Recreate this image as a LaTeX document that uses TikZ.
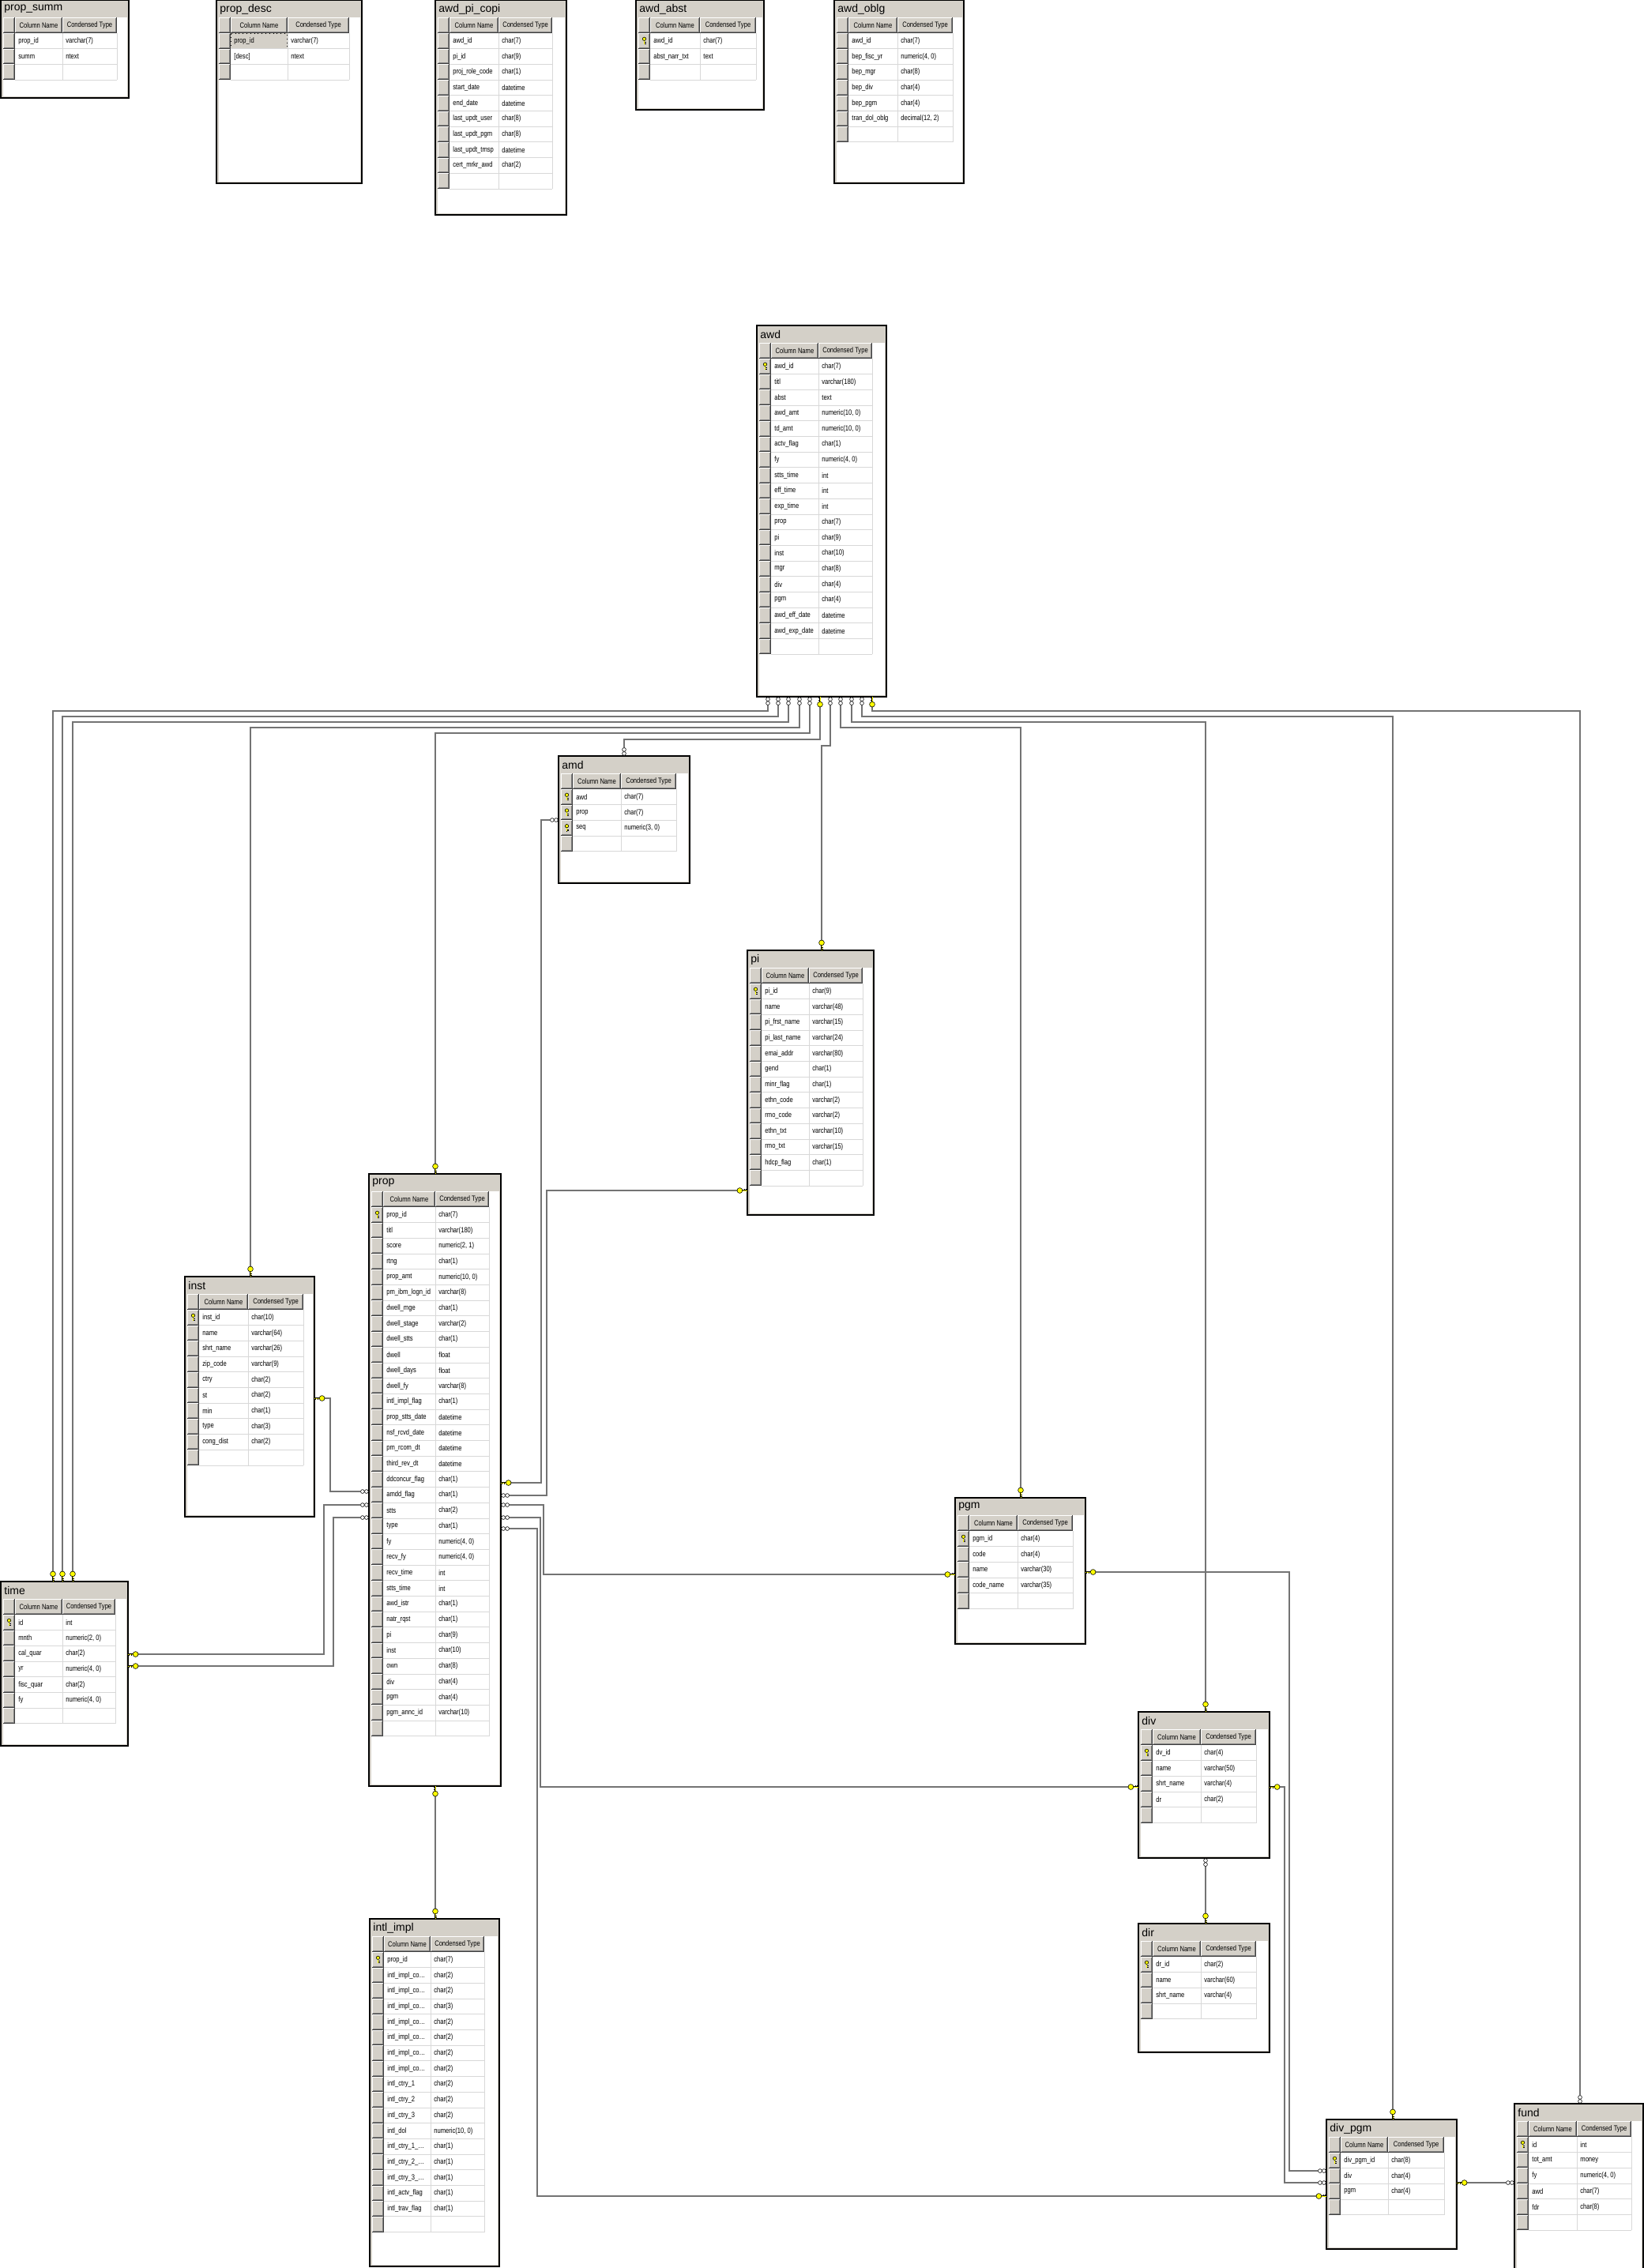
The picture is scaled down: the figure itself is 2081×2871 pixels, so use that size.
\documentclass[tikz,border=0pt]{standalone}
\usepackage{fontspec}
\newfontfamily\tfont[FakeStretch=0.8]{Liberation Sans}
\newfontfamily\ttlfont{Liberation Sans}
\definecolor{winbg}{HTML}{D4D0C8}
\definecolor{btndk}{HTML}{808080}
\definecolor{gridc}{HTML}{D8D8D8}
\definecolor{keyy}{HTML}{FFFF00}
\tikzset{
  cell/.style={anchor=west, inner sep=0pt, font=\tfont\fontsize{4.75pt}{5pt}\selectfont},
  hdr/.style={anchor=center, inner sep=0pt, font=\tfont\fontsize{4.75pt}{5pt}\selectfont},
  ttl/.style={anchor=west, inner sep=0pt, font=\ttlfont\fontsize{7pt}{8pt}\selectfont},
  rel/.style={draw=black, double=black!55, double distance=0.55pt, line width=0.38pt},
  mkey/.pic={
    \draw[black, line width=1pt] (0,-6.5) -- (0,0);
    \draw[keyy, line width=0.45pt] (0,-6.5) -- (0,-0.3);
    \draw[black, line width=0.35pt] (0,-4) -- (2.4,-4) (0,-1.6) -- (2.4,-1.6);
    \draw[black, line width=0.3pt, fill=keyy] (0,-9.6) circle (3.4);
  },
  minf/.pic={
    \draw[black, line width=0.3pt, fill=white] (0,-3.1) circle (2.4);
    \draw[black, line width=0.3pt, fill=white] (0,-8.1) circle (2.4);
  },
  rowkey/.pic={
    \fill[black] (-0.9,-1.2) rectangle (0.9,4.6);
    \fill[keyy] (-0.35,-1) rectangle (0.35,4.2);
    \draw[black, line width=0.3pt] (0.9,1.6) -- (2.1,1.6) (0.9,3.4) -- (2.1,3.4);
    \draw[black, line width=0.3pt, fill=keyy] (0,-2.6) circle (2.2);
  }
}
\newcommand\btn[4]{%
  \fill[winbg] (#1,#2) rectangle (#3,#4);
  \draw[white,line width=0.5pt] (#1+0.5,#4-1) -- (#1+0.5,#2+0.5) -- (#3-1,#2+0.5);
  \draw[btndk,line width=0.5pt] (#1+1,#4-1.5) -- (#3-1.5,#4-1.5) -- (#3-1.5,#2+1);
  \draw[black!75,line width=0.5pt] (#1,#4-0.5) -- (#3-0.5,#4-0.5) -- (#3-0.5,#2);
}
\newcommand\dbt[9]{%
\begin{scope}[shift={(#3,#4)}]
  \pgfmathsetmacro\nx{18+#7}%
  \pgfmathsetmacro\tx{18+#7+#8}%
  \fill[white] (0,0) rectangle (#5,#6);
  \fill[winbg] (0,0) rectangle (#5,22);
  \node[ttl] (#1-ttl) at (4,11.5) {#2};
  \btn{3}{22}{18}{42}
  \btn{18}{22}{\nx}{42}
  \btn{\nx}{22}{\tx}{42}
  \node[hdr] (#1-hn) at ({(18+\nx)/2},32) {Column Name};
  \node[hdr] (#1-ht) at ({(\nx+\tx)/2},32) {Condensed Type};
  \foreach \n/\t/\k [count=\i from 0] in {#9,{}/{}/0} {
    \pgfmathsetmacro\ya{42+19.7*\i}
    \pgfmathsetmacro\yb{\ya+19.7}
    \pgfmathsetmacro\ym{\ya+9.85}
    \btn{3}{\ya}{18}{\yb}
    \ifnum\k=2
      \fill[winbg] (18,\ya) rectangle (\nx,\yb);
      \draw[black, dotted, line width=0.4pt] (18.6,\ya+0.6) rectangle (\nx-0.6,\yb-0.6);
    \fi
    \draw[gridc, line width=0.5pt] (18,\yb) -- (\tx,\yb) (\nx,\ya) -- (\nx,\yb) (\tx,\ya) -- (\tx,\yb);
    \ifnum\k=1 \pic at (10.5,\ym) {rowkey}; \fi
    \node[cell] (#1-n\i) at (22,\ym) {\n};
    \node[cell] (#1-t\i) at (\nx+4,\ym) {\t};
  }
  \draw[winbg, line width=1pt] (1.5,1.5) rectangle (#5-1.5,#6-1.5);
  \draw[black, line width=0.8pt] (0,0) rectangle (#5,#6);
\end{scope}}
\begin{document}
\begin{tikzpicture}[x=0.5pt,y=-0.5pt]
\useasboundingbox (0,0) rectangle (2081,2871);
\fill[white] (0,0) rectangle (2081,2871);

% ---------------- tables ----------------
\dbt{psumm}{prop\_summ}{1}{0}{162}{124}{60}{69}{prop\_id/varchar(7)/0,summ/ntext/0}
\dbt{pdesc}{prop\_desc}{274}{0}{184}{232}{72}{78}{prop\_id/varchar(7)/2,[desc]/ntext/0}
\dbt{apc}{awd\_pi\_copi}{551}{0}{166}{272}{62}{68}{awd\_id/char(7)/0,pi\_id/char(9)/0,proj\_role\_code/char(1)/0,start\_date/datetime/0,end\_date/datetime/0,last\_updt\_user/char(8)/0,last\_updt\_pgm/char(8)/0,last\_updt\_tmsp/datetime/0,cert\_mrkr\_awd/char(2)/0}
\dbt{aabst}{awd\_abst}{805}{0}{162}{139}{63}{71}{awd\_id/char(7)/1,abst\_narr\_txt/text/0}
\dbt{aoblg}{awd\_oblg}{1056}{0}{164}{232}{62}{70}{awd\_id/char(7)/0,bep\_fisc\_yr/{numeric(4, 0)}/0,bep\_mgr/char(8)/0,bep\_div/char(4)/0,bep\_pgm/char(4)/0,tran\_dol\_oblg/{decimal(12, 2)}/0}
\dbt{awd}{awd}{958}{412}{164}{470}{60}{68}{awd\_id/char(7)/1,titl/varchar(180)/0,abst/text/0,awd\_amt/{numeric(10, 0)}/0,td\_amt/{numeric(10, 0)}/0,actv\_flag/char(1)/0,fy/{numeric(4, 0)}/0,stts\_time/int/0,eff\_time/int/0,exp\_time/int/0,prop/char(7)/0,pi/char(9)/0,inst/char(10)/0,mgr/char(8)/0,div/char(4)/0,pgm/char(4)/0,awd\_eff\_date/datetime/0,awd\_exp\_date/datetime/0}
\dbt{amd}{amd}{707}{957}{166}{161}{61}{70}{awd/char(7)/1,prop/char(7)/1,seq/{numeric(3, 0)}/1}
\dbt{pi}{pi}{946}{1203}{160}{335}{60}{68}{pi\_id/char(9)/1,name/varchar(48)/0,pi\_frst\_name/varchar(15)/0,pi\_last\_name/varchar(24)/0,emai\_addr/varchar(80)/0,gend/char(1)/0,minr\_flag/char(1)/0,ethn\_code/varchar(2)/0,rmo\_code/varchar(2)/0,ethn\_txt/varchar(10)/0,rmo\_txt/varchar(15)/0,hdcp\_flag/char(1)/0}
\dbt{prop}{prop}{467}{1486}{167}{775}{66}{68}{prop\_id/char(7)/1,titl/varchar(180)/0,score/{numeric(2, 1)}/0,rtng/char(1)/0,prop\_amt/{numeric(10, 0)}/0,pm\_ibm\_logn\_id/varchar(8)/0,dwell\_mge/char(1)/0,dwell\_stage/varchar(2)/0,dwell\_stts/char(1)/0,dwell/float/0,dwell\_days/float/0,dwell\_fy/varchar(8)/0,intl\_impl\_flag/char(1)/0,prop\_stts\_date/datetime/0,nsf\_rcvd\_date/datetime/0,pm\_rcom\_dt/datetime/0,third\_rev\_dt/datetime/0,ddconcur\_flag/char(1)/0,amdd\_flag/char(1)/0,stts/char(2)/0,type/char(1)/0,fy/{numeric(4, 0)}/0,recv\_fy/{numeric(4, 0)}/0,recv\_time/int/0,stts\_time/int/0,awd\_istr/char(1)/0,natr\_rqst/char(1)/0,pi/char(9)/0,inst/char(10)/0,own/char(8)/0,div/char(4)/0,pgm/char(4)/0,pgm\_annc\_id/varchar(10)/0}
\dbt{inst}{inst}{234}{1616}{164}{304}{62}{70}{inst\_id/char(10)/1,name/varchar(64)/0,shrt\_name/varchar(26)/0,zip\_code/varchar(9)/0,ctry/char(2)/0,st/char(2)/0,min/char(1)/0,type/char(3)/0,cong\_dist/char(2)/0}
\dbt{time}{time}{1}{2002}{161}{208}{60}{67}{id/int/1,mnth/{numeric(2, 0)}/0,cal\_quar/char(2)/0,yr/{numeric(4, 0)}/0,fisc\_quar/char(2)/0,fy/{numeric(4, 0)}/0}
\dbt{pgm}{pgm}{1209}{1896}{165}{185}{61}{70}{pgm\_id/char(4)/1,code/char(4)/0,name/varchar(30)/0,code\_name/varchar(35)/0}
\dbt{div}{div}{1441}{2167}{166}{185}{61}{70}{dv\_id/char(4)/1,name/varchar(50)/0,shrt\_name/varchar(4)/0,dr/char(2)/0}
\dbt{dir}{dir}{1441}{2435}{166}{163}{61}{70}{dr\_id/char(2)/1,name/varchar(60)/0,shrt\_name/varchar(4)/0}
\dbt{intl}{intl\_impl}{468}{2429}{164}{440}{59}{68}{prop\_id/char(7)/1,intl\_impl\_co…/char(2)/0,intl\_impl\_co…/char(2)/0,intl\_impl\_co…/char(3)/0,intl\_impl\_co…/char(2)/0,intl\_impl\_co…/char(2)/0,intl\_impl\_co…/char(2)/0,intl\_impl\_co…/char(2)/0,intl\_ctry\_1/char(2)/0,intl\_ctry\_2/char(2)/0,intl\_ctry\_3/char(2)/0,intl\_dol/{numeric(10, 0)}/0,intl\_ctry\_1\_…/char(1)/0,intl\_ctry\_2\_…/char(1)/0,intl\_ctry\_3\_…/char(1)/0,intl\_actv\_flag/char(1)/0,intl\_trav\_flag/char(1)/0}
\dbt{dvpgm}{div\_pgm}{1679}{2683}{165}{164}{60}{71}{div\_pgm\_id/char(8)/1,div/char(4)/0,pgm/char(4)/0}
\dbt{fund}{fund}{1917}{2663}{163}{212}{61}{69}{id/int/1,tot\_amt/money/0,fy/{numeric(4, 0)}/0,awd/char(7)/0,fdr/char(8)/0}

% ---------------- connector end points ----------------
\coordinate (a1) at (972,893);  \coordinate (a2) at (985,893);  \coordinate (a3) at (998,893);
\coordinate (a4) at (1012,893); \coordinate (a5) at (1025,893); \coordinate (a6) at (1038,895);
\coordinate (a7) at (1051,893); \coordinate (a8) at (1064,893); \coordinate (a9) at (1078,893);
\coordinate (a10) at (1091,893); \coordinate (a11) at (1104,895);
\coordinate (t1) at (67,1989); \coordinate (t2) at (79,1989); \coordinate (t3) at (92,1989);
\coordinate (i1) at (317,1603); \coordinate (p1) at (551,1473); \coordinate (d1) at (790,946);
\coordinate (q1) at (1040,1190); \coordinate (g1) at (1292,1883); \coordinate (v1) at (1526,2154);
\coordinate (w1) at (1763,2670); \coordinate (f1) at (2000,2652);
\coordinate (pl1) at (456,1888); \coordinate (pl2) at (456,1905); \coordinate (pl3) at (456,1921);
\coordinate (ir) at (411,1770); \coordinate (tr1) at (175,2094); \coordinate (tr2) at (175,2109);
\coordinate (pr0) at (647,1877); \coordinate (pr1) at (645,1893); \coordinate (pr2) at (645,1905);
\coordinate (pr3) at (645,1921); \coordinate (pr4) at (645,1935);
\coordinate (dl) at (696,1038); \coordinate (ql) at (933,1507); \coordinate (gl) at (1196,1993);
\coordinate (vl) at (1428,2262); \coordinate (wl1) at (1668,2748); \coordinate (wl2) at (1668,2763);
\coordinate (wl3) at (1666,2780);
\coordinate (gr) at (1387,1990); \coordinate (vr) at (1620,2262); \coordinate (wr) at (1857,2763);
\coordinate (fl) at (1906,2763);
\coordinate (vb) at (1526,2363); \coordinate (rt) at (1526,2422);
\coordinate (pb) at (551,2274); \coordinate (it) at (551,2416);

% ---------------- connectors ----------------
\draw[rel] (a1) |- (67,900) -- (t1);
\draw[rel] (a2) |- (79,907) -- (t2);
\draw[rel] (a3) |- (92,914) -- (t3);
\draw[rel] (a4) |- (317,921) -- (i1);
\draw[rel] (a5) |- (551,928) -- (p1);
\draw[rel] (a6) |- (790,936) -- (d1);
\draw[rel] (a7) |- (1040,944) -- (q1);
\draw[rel] (a8) |- (1292,921) -- (g1);
\draw[rel] (a9) |- (1526,914) -- (v1);
\draw[rel] (a10) |- (1763,907) -- (w1);
\draw[rel] (a11) |- (2000,900) -- (f1);
\draw[rel] (pl1) -| (418,1770) -- (ir);
\draw[rel] (pl2) -| (410,2094) -- (tr1);
\draw[rel] (pl3) -| (422,2109) -- (tr2);
\draw[rel] (pr0) -| (685,1038) -- (dl);
\draw[rel] (pr1) -| (692,1507) -- (ql);
\draw[rel] (pr2) -| (688,1993) -- (gl);
\draw[rel] (pr3) -| (684,2262) -- (vl);
\draw[rel] (pr4) -| (680,2780) -- (wl3);
\draw[rel] (gr) -| (1632,2748) -- (wl1);
\draw[rel] (vr) -| (1626,2763) -- (wl2);
\draw[rel] (wr) -- (fl);
\draw[rel] (vb) -- (rt);
\draw[rel] (pb) -- (it);

% ---------------- end markers ----------------
\foreach \x in {972,985,998,1012,1025,1051,1064,1078,1091} \pic[rotate=180] at (\x,882) {minf};
\pic[rotate=180] at (1038,882) {mkey};
\pic[rotate=180] at (1104,882) {mkey};
\pic at (67,2002) {mkey}; \pic at (79,2002) {mkey}; \pic at (92,2002) {mkey};
\pic at (317,1616) {mkey};
\pic at (551,1486) {mkey};
\pic at (790,957) {minf};
\pic at (1040,1203) {mkey};
\pic at (1292,1896) {mkey};
\pic at (1526,2167) {mkey};
\pic at (1763,2683) {mkey};
\pic at (2000,2663) {minf};
\pic[rotate=90] at (467,1888) {minf};
\pic[rotate=90] at (467,1905) {minf};
\pic[rotate=90] at (467,1921) {minf};
\pic[rotate=-90] at (398,1770) {mkey};
\pic[rotate=-90] at (162,2094) {mkey};
\pic[rotate=-90] at (162,2109) {mkey};
\pic[rotate=-90] at (634,1877) {mkey};
\pic[rotate=-90] at (634,1893) {minf};
\pic[rotate=-90] at (634,1905) {minf};
\pic[rotate=-90] at (634,1921) {minf};
\pic[rotate=-90] at (634,1935) {minf};
\pic[rotate=90] at (707,1038) {minf};
\pic[rotate=90] at (946,1507) {mkey};
\pic[rotate=90] at (1209,1993) {mkey};
\pic[rotate=90] at (1441,2262) {mkey};
\pic[rotate=90] at (1679,2748) {minf};
\pic[rotate=90] at (1679,2763) {minf};
\pic[rotate=90] at (1679,2780) {mkey};
\pic[rotate=-90] at (1374,1990) {mkey};
\pic[rotate=-90] at (1607,2262) {mkey};
\pic[rotate=-90] at (1844,2763) {mkey};
\pic[rotate=90] at (1917,2763) {minf};
\pic[rotate=180] at (1526,2352) {minf};
\pic at (1526,2435) {mkey};
\pic[rotate=180] at (551,2261) {mkey};
\pic at (551,2429) {mkey};
\end{tikzpicture}
\end{document}
